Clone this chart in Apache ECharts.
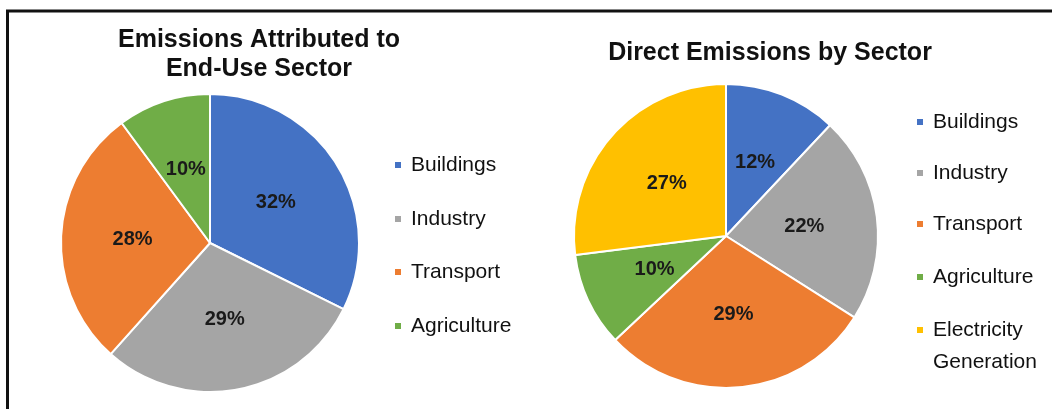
<!DOCTYPE html>
<html>
<head>
<meta charset="utf-8">
<script src="https://cdn.jsdelivr.net/npm/echarts@6/dist/echarts.min.js"></script>
<style>
  html, body { margin: 0; padding: 0; background: #ffffff; }
  #chart { width: 1052px; height: 409px; }
</style>
</head>
<body>
<div id="chart"></div>
<script>
// Sector shares (percent)
const endUseSectors = ['Buildings', 'Industry', 'Transport', 'Agriculture'];
const endUseShares = [32, 29, 28, 10];

const directSectors = ['Buildings', 'Industry', 'Transport', 'Agriculture', 'Electricity Generation'];
const directShares = [12, 22, 29, 10, 27];

const sectorColors = {
  'Buildings': '#4472C4',
  'Industry': '#A5A5A5',
  'Transport': '#ED7D31',
  'Agriculture': '#70AD47',
  'Electricity Generation': '#FFC000'
};

const FONT = '"Liberation Sans", Arial, sans-serif';

function pieData(names, values) {
  return names.map((n, i) => ({ name: n, value: values[i], itemStyle: { color: sectorColors[n] } }));
}

function pieSeries(names, values, center, radius) {
  return {
    type: 'pie',
    center: center,
    radius: radius,
    startAngle: 90,
    clockwise: true,
    data: pieData(names, values),
    itemStyle: { borderColor: '#ffffff', borderWidth: 2 },
    label: {
      position: 'inside',
      formatter: '{c}%',
      fontFamily: FONT,
      fontSize: 20,
      fontWeight: 'bold',
      color: '#1a1a1a'
    },
    labelLine: { show: false },
    emphasis: { disabled: true },
    silent: true,
    animation: false
  };
}

// One legend component per entry so each row sits at its own height.
// Two-line names get a blank leading line so the swatch lines up with the first line.
function legendEntry(name, x, cy, lines) {
  const lh = 32;
  const multi = Array.isArray(lines);
  return {
    data: [name],
    left: x,
    top: multi ? cy - 1.5 * lh : cy - lh / 2,
    padding: 0,
    orient: 'vertical',
    icon: 'rect',
    itemWidth: 6,
    itemHeight: 6,
    itemStyle: { borderWidth: 0 },
    selectedMode: false,
    formatter: multi ? () => '{gap| }\n' + lines.map(s => '{t|' + s + '}').join('\n') : undefined,
    textStyle: {
      fontFamily: FONT,
      fontSize: 21,
      color: '#111111',
      lineHeight: lh,
      padding: [0, 0, 0, 5],
      rich: {
        gap: { fontFamily: FONT, fontSize: 21, lineHeight: lh },
        t: { fontFamily: FONT, fontSize: 21, lineHeight: lh, color: '#111111' }
      }
    }
  };
}

const leftLegendY = [165, 219, 272, 326];
const rightLegendY = [122, 173, 224, 277, 330];

const legends = [];
endUseSectors.forEach((n, i) => legends.push(legendEntry(n, 395, leftLegendY[i])));
directSectors.forEach((n, i) => legends.push(legendEntry(n, 917, rightLegendY[i],
  n === 'Electricity Generation' ? ['Electricity', 'Generation'] : null)));

const chart = echarts.init(document.getElementById('chart'), null, { renderer: 'canvas' });
chart.setOption({
  backgroundColor: '#ffffff',
  animation: false,
  title: [
    {
      text: 'Emissions Attributed to\nEnd-Use Sector',
      left: 259,
      top: 26,
      textAlign: 'center',
      padding: 0,
      textStyle: { fontFamily: FONT, fontSize: 25, fontWeight: 'bold', color: '#111111', lineHeight: 29 }
    },
    {
      text: 'Direct Emissions by Sector',
      left: 770,
      top: 39,
      textAlign: 'center',
      padding: 0,
      textStyle: { fontFamily: FONT, fontSize: 25, fontWeight: 'bold', color: '#111111', lineHeight: 29 }
    }
  ],
  legend: legends,
  series: [
    pieSeries(endUseSectors, endUseShares, [210, 243], 149),
    pieSeries(directSectors, directShares, [726, 236], 152)
  ],
  graphic: [
    {
      type: 'rect',
      shape: { x: 7.5, y: 11, width: 1200, height: 600 },
      style: { fill: 'none', stroke: '#111111', lineWidth: 3 },
      silent: true
    }
  ]
});
</script>
</body>
</html>
